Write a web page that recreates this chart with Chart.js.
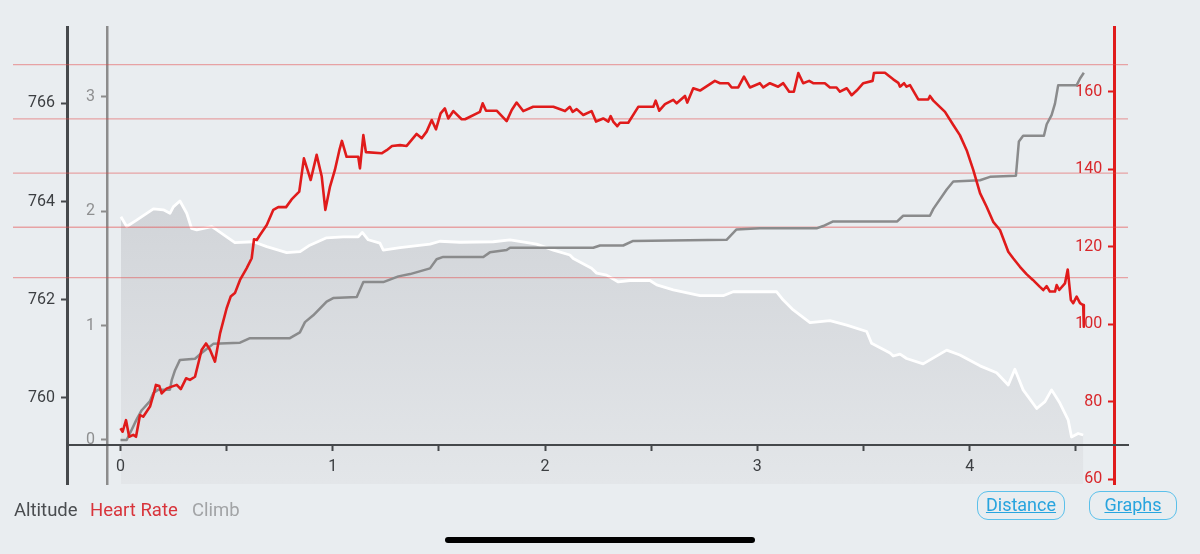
<!DOCTYPE html>
<html>
<head>
<meta charset="utf-8">
<script src="https://cdn.jsdelivr.net/npm/chart.js@4"></script>
<style>
  body { margin: 0; background: #e9edf0; font-family: Roboto, sans-serif; }
  #wrap { position: relative; width: 1200px; height: 554px; overflow: hidden; }
  #chart { position: absolute; left: 0; top: 0; }
  .legend { position: absolute; top: 500px; font-size: 18.5px; line-height: 20px; white-space: nowrap; }
  .btn { position: absolute; top: 491px; width: 88px; height: 29px; box-sizing: border-box;
         border: 1.5px solid #5bc0ea; border-radius: 11px; color: #28a4de; text-decoration: underline;
         font-size: 18px; line-height: 26px; text-align: center; }
  .homebar { position: absolute; left: 445px; top: 537px; width: 310px; height: 6px; border-radius: 3px; background: #000; }
</style>
</head>
<body>
<div id="wrap">
  <canvas id="chart" width="1200" height="554"></canvas>
  <div class="legend" style="left:14px;color:#4a4d50">Altitude</div>
  <div class="legend" style="left:90px;color:#d8343b">Heart Rate</div>
  <div class="legend" style="left:192px;color:#a2a4a6">Climb</div>
  <div class="btn" style="left:977px">Distance</div>
  <div class="btn" style="left:1089px">Graphs</div>
  <div class="homebar"></div>
</div>
<script>
// distance in km
const altDist = [0.002, 0.029, 0.076, 0.155, 0.202, 0.233, 0.249, 0.280, 0.312, 0.335, 0.359, 0.430, 0.453, 0.500, 0.539, 0.626, 0.689, 0.783, 0.846, 0.892,
  0.971, 1.049, 1.120, 1.139, 1.167, 1.222, 1.238, 1.317, 1.458, 1.505, 1.599, 1.756, 1.835, 1.960, 2.039, 2.117, 2.133, 2.219, 2.243, 2.290,
  2.345, 2.400, 2.494, 2.526, 2.604, 2.730, 2.839, 2.886, 3.091, 3.122, 3.169, 3.248, 3.342, 3.421, 3.515, 3.538, 3.625, 3.640, 3.672, 3.703,
  3.781, 3.892, 3.954, 4.049, 4.127, 4.182, 4.213, 4.252, 4.316, 4.355, 4.386, 4.425, 4.464, 4.480, 4.511, 4.535];
const altMeters = [763.69, 763.49, 763.62, 763.85, 763.83, 763.76, 763.89, 764.01, 763.76, 763.45, 763.42, 763.49, 763.42, 763.28, 763.16, 763.18, 763.08, 762.96, 762.98, 763.11,
  763.26, 763.28, 763.28, 763.37, 763.22, 763.15, 763.01, 763.06, 763.13, 763.19, 763.17, 763.18, 763.22, 763.13, 763.01, 762.91, 762.84, 762.64, 762.54, 762.50,
  762.36, 762.39, 762.39, 762.30, 762.20, 762.08, 762.08, 762.16, 762.16, 761.99, 761.79, 761.53, 761.57, 761.48, 761.35, 761.11, 760.91, 760.85, 760.89, 760.80,
  760.69, 760.97, 760.87, 760.65, 760.51, 760.26, 760.58, 760.16, 759.78, 759.92, 760.16, 759.89, 759.55, 759.20, 759.27, 759.24];

const climbDist = [0.000, 0.029, 0.053, 0.076, 0.100, 0.139, 0.155, 0.178, 0.233, 0.241, 0.257, 0.280, 0.351, 0.382, 0.437, 0.563, 0.610, 0.798, 0.845, 0.869,
  0.908, 0.971, 1.002, 1.113, 1.144, 1.238, 1.309, 1.364, 1.458, 1.489, 1.520, 1.709, 1.740, 1.819, 1.835, 2.227, 2.259, 2.368, 2.415, 2.855,
  2.902, 3.012, 3.279, 3.310, 3.357, 3.659, 3.687, 3.813, 3.829, 3.892, 3.923, 4.049, 4.096, 4.218, 4.232, 4.252, 4.350, 4.363, 4.386, 4.402,
  4.417, 4.504, 4.520, 4.538];
const climbVal = [0, 0, 0.09, 0.18, 0.26, 0.34, 0.41, 0.44, 0.44, 0.52, 0.61, 0.70, 0.71, 0.76, 0.84, 0.85, 0.89, 0.89, 0.94, 1.03,
  1.09, 1.21, 1.24, 1.25, 1.38, 1.38, 1.43, 1.45, 1.50, 1.58, 1.60, 1.60, 1.64, 1.66, 1.68, 1.68, 1.70, 1.70, 1.74, 1.75,
  1.84, 1.85, 1.85, 1.87, 1.91, 1.91, 1.96, 1.96, 2.02, 2.19, 2.26, 2.27, 2.30, 2.31, 2.61, 2.66, 2.66, 2.76, 2.84, 2.94,
  3.10, 3.10, 3.16, 3.21];

const hrDist = [0.000, 0.010, 0.026, 0.041, 0.060, 0.073, 0.092, 0.107, 0.139, 0.155, 0.167, 0.183, 0.194, 0.218, 0.265, 0.284, 0.309, 0.327, 0.351, 0.382,
  0.403, 0.422, 0.445, 0.469, 0.500, 0.519, 0.539, 0.563, 0.594, 0.618, 0.629, 0.642, 0.657, 0.689, 0.720, 0.743, 0.780, 0.806, 0.842, 0.864,
  0.896, 0.924, 0.948, 0.965, 0.987, 1.010, 1.031, 1.043, 1.065, 1.120, 1.128, 1.144, 1.156, 1.230, 1.254, 1.279, 1.317, 1.348, 1.395, 1.419,
  1.442, 1.466, 1.486, 1.508, 1.528, 1.544, 1.568, 1.607, 1.623, 1.693, 1.706, 1.722, 1.772, 1.819, 1.843, 1.866, 1.897, 1.944, 2.039, 2.094,
  2.117, 2.130, 2.149, 2.180, 2.219, 2.240, 2.274, 2.298, 2.309, 2.321, 2.340, 2.353, 2.392, 2.439, 2.510, 2.521, 2.538, 2.565, 2.604, 2.620,
  2.659, 2.670, 2.698, 2.730, 2.800, 2.824, 2.863, 2.879, 2.910, 2.937, 2.965, 3.012, 3.028, 3.059, 3.098, 3.122, 3.150, 3.172, 3.193, 3.216,
  3.244, 3.263, 3.318, 3.342, 3.373, 3.389, 3.421, 3.433, 3.444, 3.468, 3.499, 3.543, 3.549, 3.562, 3.601, 3.640, 3.664, 3.672, 3.691, 3.703,
  3.719, 3.758, 3.805, 3.813, 3.829, 3.884, 3.923, 3.954, 3.986, 4.017, 4.049, 4.080, 4.111, 4.143, 4.182, 4.205, 4.237, 4.268, 4.298, 4.331,
  4.347, 4.363, 4.378, 4.402, 4.410, 4.422, 4.449, 4.462, 4.477, 4.488, 4.504, 4.520, 4.535, 4.538];
const hrBpm = [73.1, 72.2, 75.2, 70.9, 71.4, 70.9, 76.5, 76.1, 78.7, 81.7, 84.3, 84.0, 82.1, 83.4, 84.3, 83.2, 86.0, 85.6, 86.4, 93.3,
  95.0, 93.3, 90.3, 97.6, 104.1, 107.1, 108.0, 111.4, 114.4, 117.0, 121.9, 121.7, 123.0, 125.6, 129.5, 130.2, 130.2, 132.2, 134.2, 142.8,
  137.2, 143.7, 138.1, 129.5, 135.5, 139.8, 144.9, 147.3, 143.2, 143.2, 140.2, 148.8, 144.4, 144.1, 144.9, 146.0, 146.2, 146.0, 149.1, 148.0,
  149.7, 152.7, 150.3, 154.4, 155.7, 153.1, 155.0, 152.9, 152.9, 154.8, 157.0, 155.1, 155.1, 152.4, 155.3, 157.2, 155.0, 156.1, 156.1, 155.0,
  156.1, 154.8, 155.5, 154.0, 155.0, 152.3, 153.1, 152.3, 153.7, 152.3, 151.1, 152.0, 152.0, 156.1, 156.1, 157.7, 155.1, 156.8, 157.9, 157.0,
  158.9, 157.2, 160.9, 160.3, 162.8, 162.2, 162.2, 161.1, 161.1, 163.9, 161.1, 162.2, 161.1, 162.2, 161.3, 162.2, 160.0, 160.0, 164.8, 162.2,
  162.8, 162.2, 162.2, 161.1, 161.1, 160.0, 160.9, 160.0, 159.1, 160.3, 162.2, 162.8, 164.8, 164.9, 164.9, 163.2, 162.3, 161.3, 162.2, 161.3,
  161.7, 158.0, 158.0, 158.9, 157.7, 154.8, 151.4, 148.8, 144.9, 139.8, 133.8, 130.3, 126.4, 124.3, 118.7, 117.0, 114.8, 112.9, 111.4, 109.6,
  108.8, 109.8, 108.4, 108.4, 110.1, 108.8, 110.5, 114.1, 106.2, 105.4, 107.1, 105.4, 104.9, 99.3];

const distTicks = [0, 0.5, 1, 1.5, 2, 2.5, 3, 3.5, 4, 4.5];
const altTicks = [760, 762, 764, 766];
const climbTicks = [0, 1, 2, 3];
const hrTicks = [60, 80, 100, 120, 140, 160];
const hrZones = [167, 153, 139, 125, 112];

const toPoints = (xs, ys) => xs.map((x, i) => ({x: x, y: ys[i]}));
const setTicks = list => scale => { scale.ticks = list.map(v => ({value: v})); };
// axes placed inside the chart area get no label padding, so pad with spaces
const padLabel = v => v + '   ';

// thin red heart-rate zone lines, drawn just above the altitude fill
const zoneLines = {
  id: 'zoneLines',
  afterDatasetDraw(chart, args) {
    if (args.index !== 0) return;
    const ctx = chart.ctx;
    const hr = chart.scales.hr;
    ctx.save();
    ctx.strokeStyle = 'rgba(228, 70, 70, 0.45)';
    ctx.lineWidth = 1.3;
    hrZones.forEach(v => {
      const y = hr.getPixelForValue(v);
      ctx.beginPath();
      ctx.moveTo(13, y);
      ctx.lineTo(chart.chartArea.right, y);
      ctx.stroke();
    });
    ctx.restore();
  }
};

const tickFont = {family: 'Roboto', size: 16};

new Chart(document.getElementById('chart'), {
  type: 'line',
  data: {
    datasets: [
      {
        label: 'Altitude',
        data: toPoints(altDist, altMeters),
        yAxisID: 'alt',
        order: 3,
        borderColor: '#ffffff',
        borderWidth: 2.8,
        fill: 'start',
        backgroundColor: ctx => {
          const area = ctx.chart.chartArea;
          if (!area) return '#d3d6da';
          const g = ctx.chart.ctx.createLinearGradient(0, area.top, 0, area.bottom);
          g.addColorStop(0, '#c6c9ce');
          g.addColorStop(1, '#e3e6e9');
          return g;
        }
      },
      {
        label: 'Climb',
        data: toPoints(climbDist, climbVal),
        yAxisID: 'climb',
        order: 2,
        borderColor: '#8a8b8c',
        borderWidth: 2.5,
        fill: false
      },
      {
        label: 'Heart Rate',
        data: toPoints(hrDist, hrBpm),
        yAxisID: 'hr',
        order: 1,
        borderColor: '#e01b1b',
        borderWidth: 2.6,
        fill: false
      }
    ]
  },
  options: {
    responsive: false,
    animation: false,
    events: [],
    layout: {padding: {left: 67, right: 72, top: 27, bottom: 70}},
    elements: {point: {radius: 0}, line: {tension: 0, borderJoinStyle: 'round'}},
    plugins: {legend: {display: false}, tooltip: {enabled: false}},
    scales: {
      x: {
        type: 'linear',
        min: -0.252,
        max: 4.746,
        position: {alt: 759.04},
        afterBuildTicks: setTicks(distTicks),
        grid: {z: 1, drawOnChartArea: false, tickLength: 5, tickWidth: 2, tickColor: '#45484b'},
        border: {z: 1, color: '#45484b', width: 2},
        ticks: {z: 1, color: '#3c3f42', font: tickFont, padding: 8, maxRotation: 0, autoSkip: false,
                callback: v => Number.isInteger(v) ? String(v) : ''}
      },
      alt: {
        axis: 'y',
        type: 'linear',
        min: 758.241,
        max: 767.558,
        position: {x: -0.252},
        afterBuildTicks: setTicks(altTicks),
        grid: {drawOnChartArea: false, tickLength: 5, tickWidth: 2, tickColor: '#46494c'},
        border: {color: '#46494c', width: 3},
        ticks: {color: '#3c3f42', font: tickFont, autoSkip: false, callback: padLabel}
      },
      climb: {
        axis: 'y',
        type: 'linear',
        min: -0.385,
        max: 3.610,
        position: {x: -0.0636},
        afterBuildTicks: setTicks(climbTicks),
        grid: {drawOnChartArea: false, tickLength: 5, tickWidth: 2, tickColor: '#8c8c8c'},
        border: {color: '#8c8c8c', width: 2.5},
        ticks: {color: '#8e8f90', font: tickFont, autoSkip: false, callback: padLabel}
      },
      hr: {
        axis: 'y',
        type: 'linear',
        min: 58.71,
        max: 176.71,
        position: {x: 4.681},
        afterBuildTicks: setTicks(hrTicks),
        grid: {drawOnChartArea: false, tickLength: 5, tickWidth: 2, tickColor: '#e01b1b'},
        border: {color: '#e01b1b', width: 3},
        ticks: {color: '#d8262a', font: tickFont, autoSkip: false, callback: padLabel}
      }
    }
  },
  plugins: [zoneLines]
});
</script>
</body>
</html>
